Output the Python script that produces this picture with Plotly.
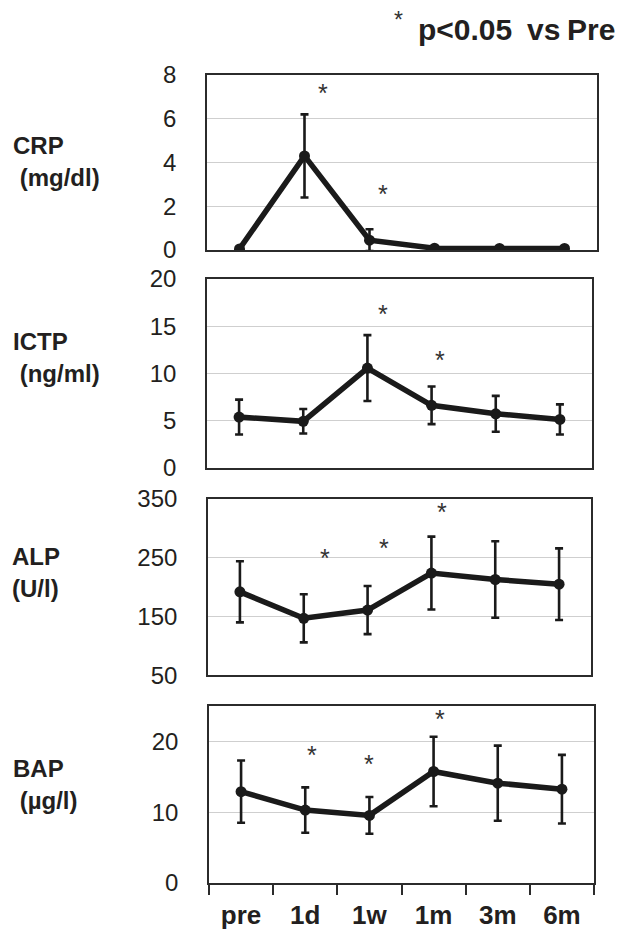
import plotly.graph_objects as go

# ---------------- data ----------------
timepoints = ["pre", "1d", "1w", "1m", "3m", "6m"]

crp_mean = [0.05, 4.3, 0.45, 0.08, 0.07, 0.07]
crp_sd = [0.0, 1.9, 0.5, 0.0, 0.0, 0.0]

ictp_mean = [5.35, 4.9, 10.55, 6.6, 5.7, 5.1]
ictp_sd = [1.85, 1.3, 3.5, 2.0, 1.9, 1.6]

alp_mean = [192, 147, 161, 224, 213, 205]
alp_sd = [52, 41, 41, 62, 65, 61]

bap_mean = [12.9, 10.3, 9.55, 15.75, 14.1, 13.25]
bap_sd = [4.4, 3.2, 2.6, 4.9, 5.3, 4.85]

# significance stars: (category index + offset, y value)
crp_star_x = [1.29, 2.21]
crp_star_y = [7.45, 2.85]
ictp_star_x = [2.25, 3.13]
ictp_star_y = [16.9, 12.0]
alp_star_x = [1.34, 2.25, 3.17]
alp_star_y = [259, 276, 338]
bap_star_x = [1.10, 2.0, 3.10]
bap_star_y = [18.9, 17.6, 24.0]

panel_titles = [("CRP", " (mg/dl)"), ("ICTP", " (ng/ml)"), ("ALP", "(U/l)"), ("BAP", " (µg/l)")]

crp_ticks = [0, 2, 4, 6, 8]
ictp_ticks = [0, 5, 10, 15, 20]
alp_ticks = [50, 150, 250, 350]
bap_ticks = [0, 10, 20]

legend_parts = ["p<0.05", "vs", "Pre"]

# ---------------- layout constants ----------------
W, H = 617, 934
FONT = "Liberation Sans, Arial, Helvetica, sans-serif"
TXT = "#231f20"

def px_x(v):
    return v / W

def px_y(v):
    return 1 - v / H

panels = [
    dict(mean=crp_mean, sd=crp_sd, sx=crp_star_x, sy=crp_star_y, ticks=crp_ticks,
         rng=[0, 8], xd=(207, 597), yd=(250, 75), title_y=(146, 177), title_x=(11, 11)),
    dict(mean=ictp_mean, sd=ictp_sd, sx=ictp_star_x, sy=ictp_star_y, ticks=ictp_ticks,
         rng=[0, 20], xd=(207, 592), yd=(467.5, 279), title_y=(341, 373), title_x=(11, 11)),
    dict(mean=alp_mean, sd=alp_sd, sx=alp_star_x, sy=alp_star_y, ticks=alp_ticks,
         rng=[50, 350], xd=(208, 591), yd=(675.3, 499), title_y=(556, 588), title_x=(10, 10)),
    dict(mean=bap_mean, sd=bap_sd, sx=bap_star_x, sy=bap_star_y, ticks=bap_ticks,
         rng=[0, 25], xd=(209, 594), yd=(883, 706), title_y=(768, 800), title_x=(11, 11)),
]

fig = go.Figure()
annotations = []
layout_axes = {}

for i, p in enumerate(panels):
    n = i + 1
    xa = "x" if n == 1 else f"x{n}"
    ya = "y" if n == 1 else f"y{n}"
    xkey = "xaxis" if n == 1 else f"xaxis{n}"
    ykey = "yaxis" if n == 1 else f"yaxis{n}"

    fig.add_trace(go.Scatter(
        x=timepoints, y=p["mean"], mode="lines+markers",
        line=dict(color="#1a1a1a", width=5.5),
        marker=dict(color="#1a1a1a", size=11),
        error_y=dict(type="data", array=p["sd"], visible=True,
                     color="#1a1a1a", thickness=2.6, width=4),
        xaxis=xa, yaxis=ya, showlegend=False, cliponaxis=True,
    ))

    last = (n == len(panels))
    layout_axes[xkey] = dict(
        domain=[px_x(p["xd"][0]), px_x(p["xd"][1])],
        anchor=ya, type="category", categoryorder="array", categoryarray=timepoints,
        range=[-0.5, 5.5], showgrid=False, zeroline=False, automargin=False,
        showline=True, mirror=True, linecolor="#2b2b2b", linewidth=1.6,
        showticklabels=last, ticks="outside" if last else "",
        tickson="boundaries", ticklen=10, tickwidth=1.6, tickcolor="#2b2b2b",
        tickfont=dict(family=FONT, size=26, color=TXT, weight="bold"),
        ticklabelstandoff=8,
    )
    layout_axes[ykey] = dict(
        domain=[px_y(p["yd"][0]), px_y(p["yd"][1])],
        anchor=xa, range=p["rng"], tickvals=p["ticks"], automargin=False,
        showgrid=True, gridcolor="#cfcfcf", gridwidth=1.2, zeroline=False,
        showline=True, mirror=True, linecolor="#2b2b2b", linewidth=1.6,
        ticks="", tickfont=dict(family=FONT, size=24, color=TXT),
        ticklabelstandoff=24,
    )

    for sx, sy in zip(p["sx"], p["sy"]):
        annotations.append(dict(
            x=sx, y=sy, xref=xa, yref=ya, text="*", showarrow=False,
            font=dict(family=FONT, size=25, color="#333333"),
            xanchor="center", yanchor="middle", yshift=-6,
        ))

    t1, t2 = panel_titles[i]
    annotations.append(dict(
        x=px_x(p["title_x"][0]), y=px_y(p["title_y"][0]), xref="paper", yref="paper",
        text=f"<b>{t1}</b>", showarrow=False, xanchor="left", yanchor="middle",
        font=dict(family=FONT, size=24, color=TXT),
    ))
    annotations.append(dict(
        x=px_x(p["title_x"][1]), y=px_y(p["title_y"][1]), xref="paper", yref="paper",
        text=f"<b>{t2.replace(' ', '&nbsp;')}</b>", showarrow=False, xanchor="left", yanchor="middle",
        font=dict(family=FONT, size=24, color=TXT),
    ))

# legend text at top right
annotations.append(dict(
    x=px_x(398), y=px_y(15), xref="paper", yref="paper", text="*", showarrow=False,
    xanchor="center", yanchor="middle", yshift=-5,
    font=dict(family=FONT, size=23, color="#333333"),
))
for part, left in zip(legend_parts, [416, 525, 565]):
    annotations.append(dict(
        x=px_x(left), y=px_y(29), xref="paper", yref="paper", text=f"<b>{part}</b>",
        showarrow=False, xanchor="left", yanchor="middle",
        font=dict(family=FONT, size=30, color=TXT),
    ))

fig.update_layout(
    width=W, height=H, margin=dict(l=0, r=0, t=0, b=0, pad=0, autoexpand=False),
    paper_bgcolor="white", plot_bgcolor="white",
    annotations=annotations, **layout_axes,
)

fig.write_html(
    "out.html",
    config={"displayModeBar": False},
    post_script="document.body.style.margin='0';document.body.style.overflow='hidden';",
)
